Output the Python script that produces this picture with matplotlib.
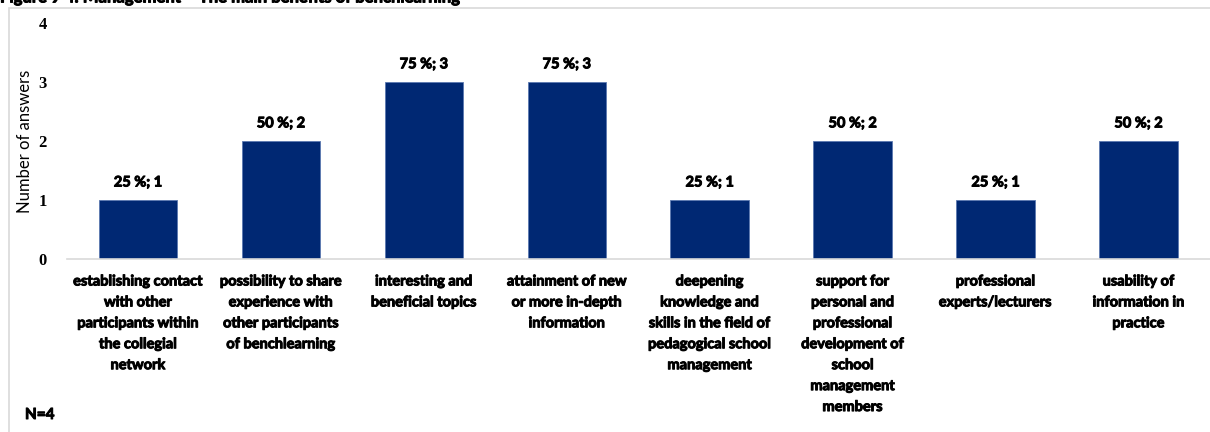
import matplotlib
matplotlib.use('Agg')
import matplotlib.pyplot as plt
import matplotlib.patheffects as pe
from matplotlib.patches import Rectangle

# answers per benefit (N=4 respondents)
categories = [
	'establishing contact\nwith other\nparticipants within\nthe collegial\nnetwork',
	'possibility to share\nexperience with\nother participants\nof benchlearning',
	'interesting and\nbeneficial topics',
	'attainment of new\nor more in-depth\ninformation',
	'deepening\nknowledge and\nskills in the field of\npedagogical school\nmanagement',
	'support for\npersonal and\nprofessional\ndevelopment of\nschool\nmanagement\nmembers',
	'professional\nexperts/lecturers',
	'usability of\ninformation in\npractice',
]
counts = [1, 2, 3, 3, 1, 2, 1, 2]
percents = [25, 50, 75, 75, 25, 50, 25, 50]
yticks = [0, 1, 2, 3, 4]

title = 'Figure 9 4: Management \u2013 The main benefits of benchlearning'
narrow = ['Lato', 'DejaVu Sans']
# thicken the light font a little
heavy = [pe.withStroke(linewidth=0.7, foreground='black')]

fig = plt.figure(figsize=(12.1, 4.32), dpi=100)
ax = fig.add_axes([0.055, 0.40, 0.945, 0.547])

x = list(range(len(categories)))
ax.bar(x, counts, width=0.55, color='#002873', edgecolor='#5a78b0', linewidth=0.6, zorder=2)

for i in x:
	ax.text(i, counts[i] + 0.18, '%d %%; %d' % (percents[i], counts[i]),
		ha='center', va='bottom', fontsize=10.5, fontweight='bold', family=narrow, path_effects=heavy)

ax.set_xlim(-0.5, len(categories) - 0.5)
ax.set_ylim(0, 4)
ax.set_yticks(yticks)
ax.set_yticklabels([str(t) for t in yticks], fontsize=12, fontweight='bold', family='Liberation Serif')
ax.set_xticks(x)
ax.set_xticklabels(categories, fontsize=10.5, fontweight='bold', family=narrow, linespacing=1.63, va='top')
for lab in ax.get_xticklabels():
	lab.set_path_effects(heavy)
ax.tick_params(axis='both', length=0)
ax.tick_params(axis='x', pad=11)
ax.tick_params(axis='y', pad=14)
ax.set_ylabel('Number of answers', fontsize=12, family=['Lato', 'DejaVu Sans'], labelpad=4)

for side in ['top', 'right', 'left']:
	ax.spines[side].set_visible(False)
ax.spines['bottom'].set_color('#d9d9d9')
ax.spines['bottom'].set_linewidth(1.2)

# chart frame and the title line sitting just above it
fig.patches.append(Rectangle((9 / 1210, -0.05), 1.1, 1 - 8 / 432 + 0.05, transform=fig.transFigure,
	fill=False, edgecolor='#d9d9d9', linewidth=1.2))
fig.text(0.0, 1.0 + 0.006, title, ha='left', va='center', fontsize=12, fontweight='bold',
	family=['Lato', 'DejaVu Sans'], path_effects=heavy)
fig.text(25 / 1210, 1 - 415 / 432, 'N=4', ha='left', va='center', fontsize=11, fontweight='bold',
	family=narrow, path_effects=heavy)

plt.savefig('out.png', dpi=100)
plt.close()
